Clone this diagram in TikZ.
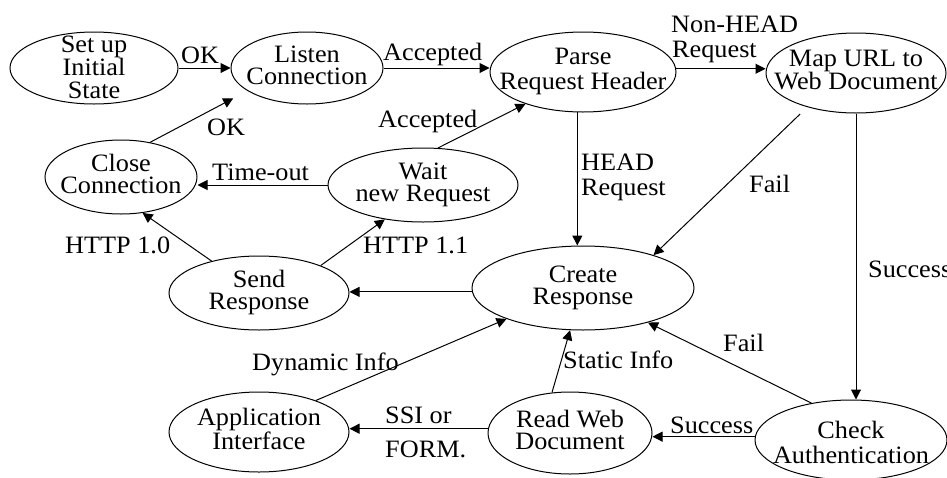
\documentclass[tikz,border=0pt]{standalone}
\usepackage{fontspec}
\setmainfont{Liberation Serif}[FakeStretch=1.05]
\usetikzlibrary{shapes.geometric,arrows.meta}
\newcommand\stt[2][0pt]{\makebox[0pt]{\raisebox{\dimexpr-.25em-#1\relax}[0pt][0pt]{\begin{tabular}{@{}c@{}}#2\end{tabular}}}}
\begin{document}
\begin{tikzpicture}[x=1pt,y=-1pt,
  st/.style={draw, ellipse, line width=1pt, inner sep=0pt, font=\fontsize{25}{20}\selectfont},
  lbl/.style={anchor=base west, inner sep=0pt, font=\fontsize{25}{20}\selectfont},
  arr/.style={line width=1pt, -{Triangle[length=10pt,width=10pt]}}]
\useasboundingbox (0,0) rectangle (947,477);
% states
\node[st, minimum width=168pt, minimum height=72pt] (setup) at (94,68) {\stt[2pt]{Set up\\Initial\\State}};
\node[st, minimum width=152pt, minimum height=72pt] (listen) at (307,68) {\stt{Listen\\Connection}};
\node[st, minimum width=186pt, minimum height=80pt, font=\fontsize{25}{24}\selectfont] (parse) at (583,72) {\stt{Parse\\Request Header}};
\node[st, minimum width=180pt, minimum height=80pt] (map) at (856,73) {\stt{Map URL to\\Web Document}};
\node[st, minimum width=152pt, minimum height=74pt] (close) at (121,177) {\stt{Close\\Connection}};
\node[st, minimum width=190pt, minimum height=74pt] (wait) at (423,185) {\stt{Wait\\new Request}};
\node[st, minimum width=180pt, minimum height=74pt] (send) at (259,293) {\stt{Send\\Response}};
\node[st, minimum width=222pt, minimum height=84pt] (create) at (583,288) {\stt{Create\\Response}};
\node[st, minimum width=180pt, minimum height=80pt] (app) at (259,432) {\stt{Application\\Interface}};
\node[st, minimum width=164pt, minimum height=82pt] (read) at (570,433) {\stt{Read Web\\Document}};
\node[st, minimum width=192pt, minimum height=80pt, font=\fontsize{25}{24}\selectfont] (check) at (851,440) {\stt[6pt]{Check\\Authentication}};
% transitions
\draw[arr] (setup) -- (listen);
\draw[arr] (listen.east) -- (listen.east -| parse.west);
\draw[arr] (parse.2.5) -- (parse.2.5 -| map.west);
\draw[arr] (parse.262.9) -- (parse.262.9 |- create.north);
\draw[arr, shorten <=10pt] (map.215.5) -- (create.25.5);
\draw[arr] (map.south) -- (map.south |- check.north);
\draw[arr] (check.137.2) -- (create.332.4);
\draw[arr] (check.178.2) -- (check.178.2 -| read.east);
\draw[arr] (read.114.2) -- (create.253.5);
\draw[arr] (read.177.2) -- (read.177.2 -| app.east);
\draw[arr] (app.29.7) -- (create.202.1);
\draw[arr] (create.182.6) -- (create.182.6 -| send.east);
\draw[arr] (send.146.9) -- (close.301.4);
\draw[arr] (send.24) -- (wait.222.1);
\draw[arr] (wait.west) -- (wait.west -| close.east);
\draw[arr] (wait.68.7) -- (parse.209.6);
\draw[arr, shorten >=16pt] (close.50) -- (listen.201);
% labels
\node[lbl] (lok1) at (181,63) {OK};
\node[lbl] (lacc1) at (383,60) {Accepted};
\node[lbl] (lnh1) at (671,32) {Non-HEAD};
\node[lbl] (lnh2) at (672,57) {Request};
\node[lbl] (lacc2) at (378,127) {Accepted};
\node[lbl] (lok2) at (207,135) {OK};
\node[lbl] (lto) at (212,180) {Time-out};
\node[lbl] (lh1) at (581,170) {HEAD};
\node[lbl] (lh2) at (581,195) {Request};
\node[lbl] (lf1) at (749,192) {Fail};
\node[lbl] (lh10) at (65,253) {HTTP 1.0};
\node[lbl] (lh11) at (363,253) {HTTP 1.1};
\node[lbl] (ldyn) at (252,370) {Dynamic Info};
\node[lbl] (lssi) at (385,423) {SSI or};
\node[lbl] (lform) at (385,457) {FORM.};
\node[lbl] (lstat) at (563,368) {Static Info};
\node[lbl] (lf2) at (723,351) {Fail};
\node[lbl] (lsuc1) at (670,433) {Success};
\node[lbl] (lsuc2) at (868,277) {Success};
\end{tikzpicture}
\end{document}
